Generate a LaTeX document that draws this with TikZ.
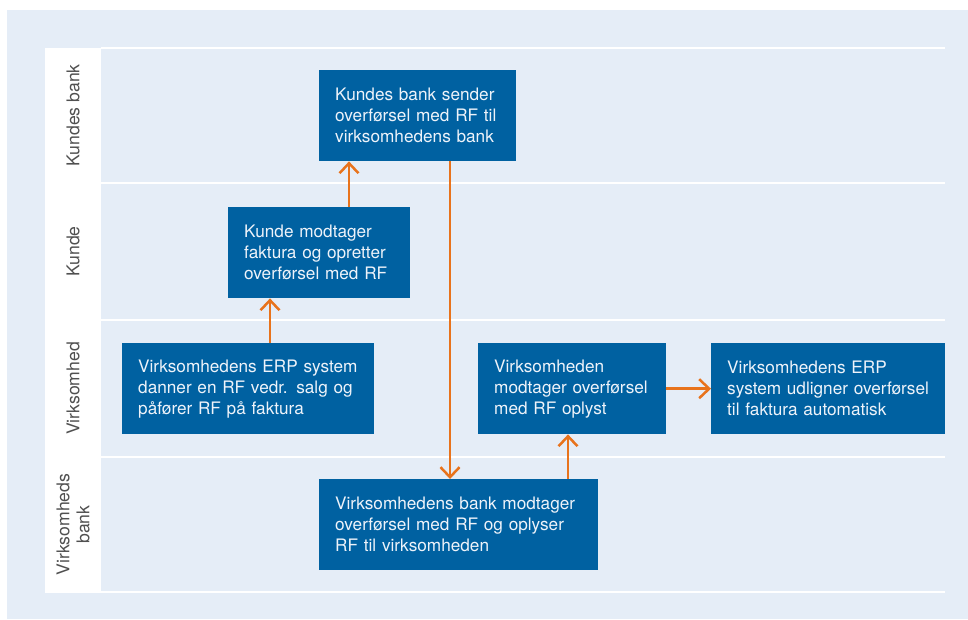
\documentclass[tikz,border=0pt]{standalone}
\usepackage{fontspec}
\setmainfont{TeX Gyre Heros}
\usetikzlibrary{arrows.meta}
\definecolor{bgblue}{HTML}{E5EDF7}
\definecolor{boxblue}{HTML}{0061A1}
\definecolor{boxtext}{HTML}{EEF3FA}
\definecolor{arrorange}{HTML}{E8731C}
\definecolor{lanetext}{HTML}{505050}
\tikzset{
  flowbox/.style={draw=none, fill=boxblue, text=boxtext, anchor=north west,
    minimum height=91pt, inner xsep=16pt, inner ysep=0pt, align=left,
    font=\fontsize{17.2}{21}\selectfont},
  arr/.style={draw=arrorange, line width=2.5pt,
    -{Straight Barb[length=10pt,width=19pt,line width=2.5pt]}},
  lanelabel/.style={rotate=90, text=lanetext, align=center,
    font=\fontsize{17.6}{20}\selectfont},
  laneline/.style={draw=white, line width=1.6pt}
}
\begin{document}
\begin{tikzpicture}[x=1pt,y=-1pt]
\useasboundingbox (0,0) rectangle (968,619);
\fill[white] (0,0) rectangle (968,619);
\fill[bgblue] (7,10) rectangle (968,619);
\fill[white] (45,47.5) rectangle (101,592.5);
\foreach \yy in {48,183,320,457,592} \draw[laneline] (101,\yy) -- (945,\yy);
\node[lanelabel] (l1) at (73,115.5) {Kundes bank};
\node[lanelabel] (l2) at (73,251.5) {Kunde};
\node[lanelabel] (l3) at (73,388.5) {Virksomhed};
\node[lanelabel] (l4) at (73,524.5) {Virksomheds\\bank};

\node[flowbox, text width=165pt] (b1) at (319,70) {Kundes bank sender\\overførsel med RF til\\virksomhedens bank};
\node[flowbox, text width=150pt] (b2) at (228,207) {Kunde modtager\\faktura og opretter\\overførsel med RF};
\node[flowbox, text width=220pt] (b3) at (122,343) {Virksomhedens ERP system\\danner en RF vedr. salg og\\påfører RF på faktura};
\node[flowbox, text width=156pt] (b4) at (478,343) {Virksomheden\\modtager overførsel\\med RF oplyst};
\node[flowbox, text width=202pt] (b5) at (711,343) {Virksomhedens ERP\\system udligner overførsel\\til faktura automatisk};
\node[flowbox, text width=247pt] (b6) at (319,479) {Virksomhedens bank modtager\\overførsel med RF og oplyser\\RF til virksomheden};

\draw[arr] ([xshift=148]b3.north west) -- ([xshift=148]b3.north west |- b2.south);
\draw[arr] ([xshift=121]b2.north west) -- ([xshift=121]b2.north west |- b1.south);
\draw[arr] ([xshift=131]b1.south west) -- ([xshift=131]b1.south west |- b6.north);
\draw[arr] ([xshift=249]b6.north west) -- ([xshift=249]b6.north west |- b4.south);
\draw[arr] (b4.east) -- (b5.west);
\end{tikzpicture}
\end{document}
